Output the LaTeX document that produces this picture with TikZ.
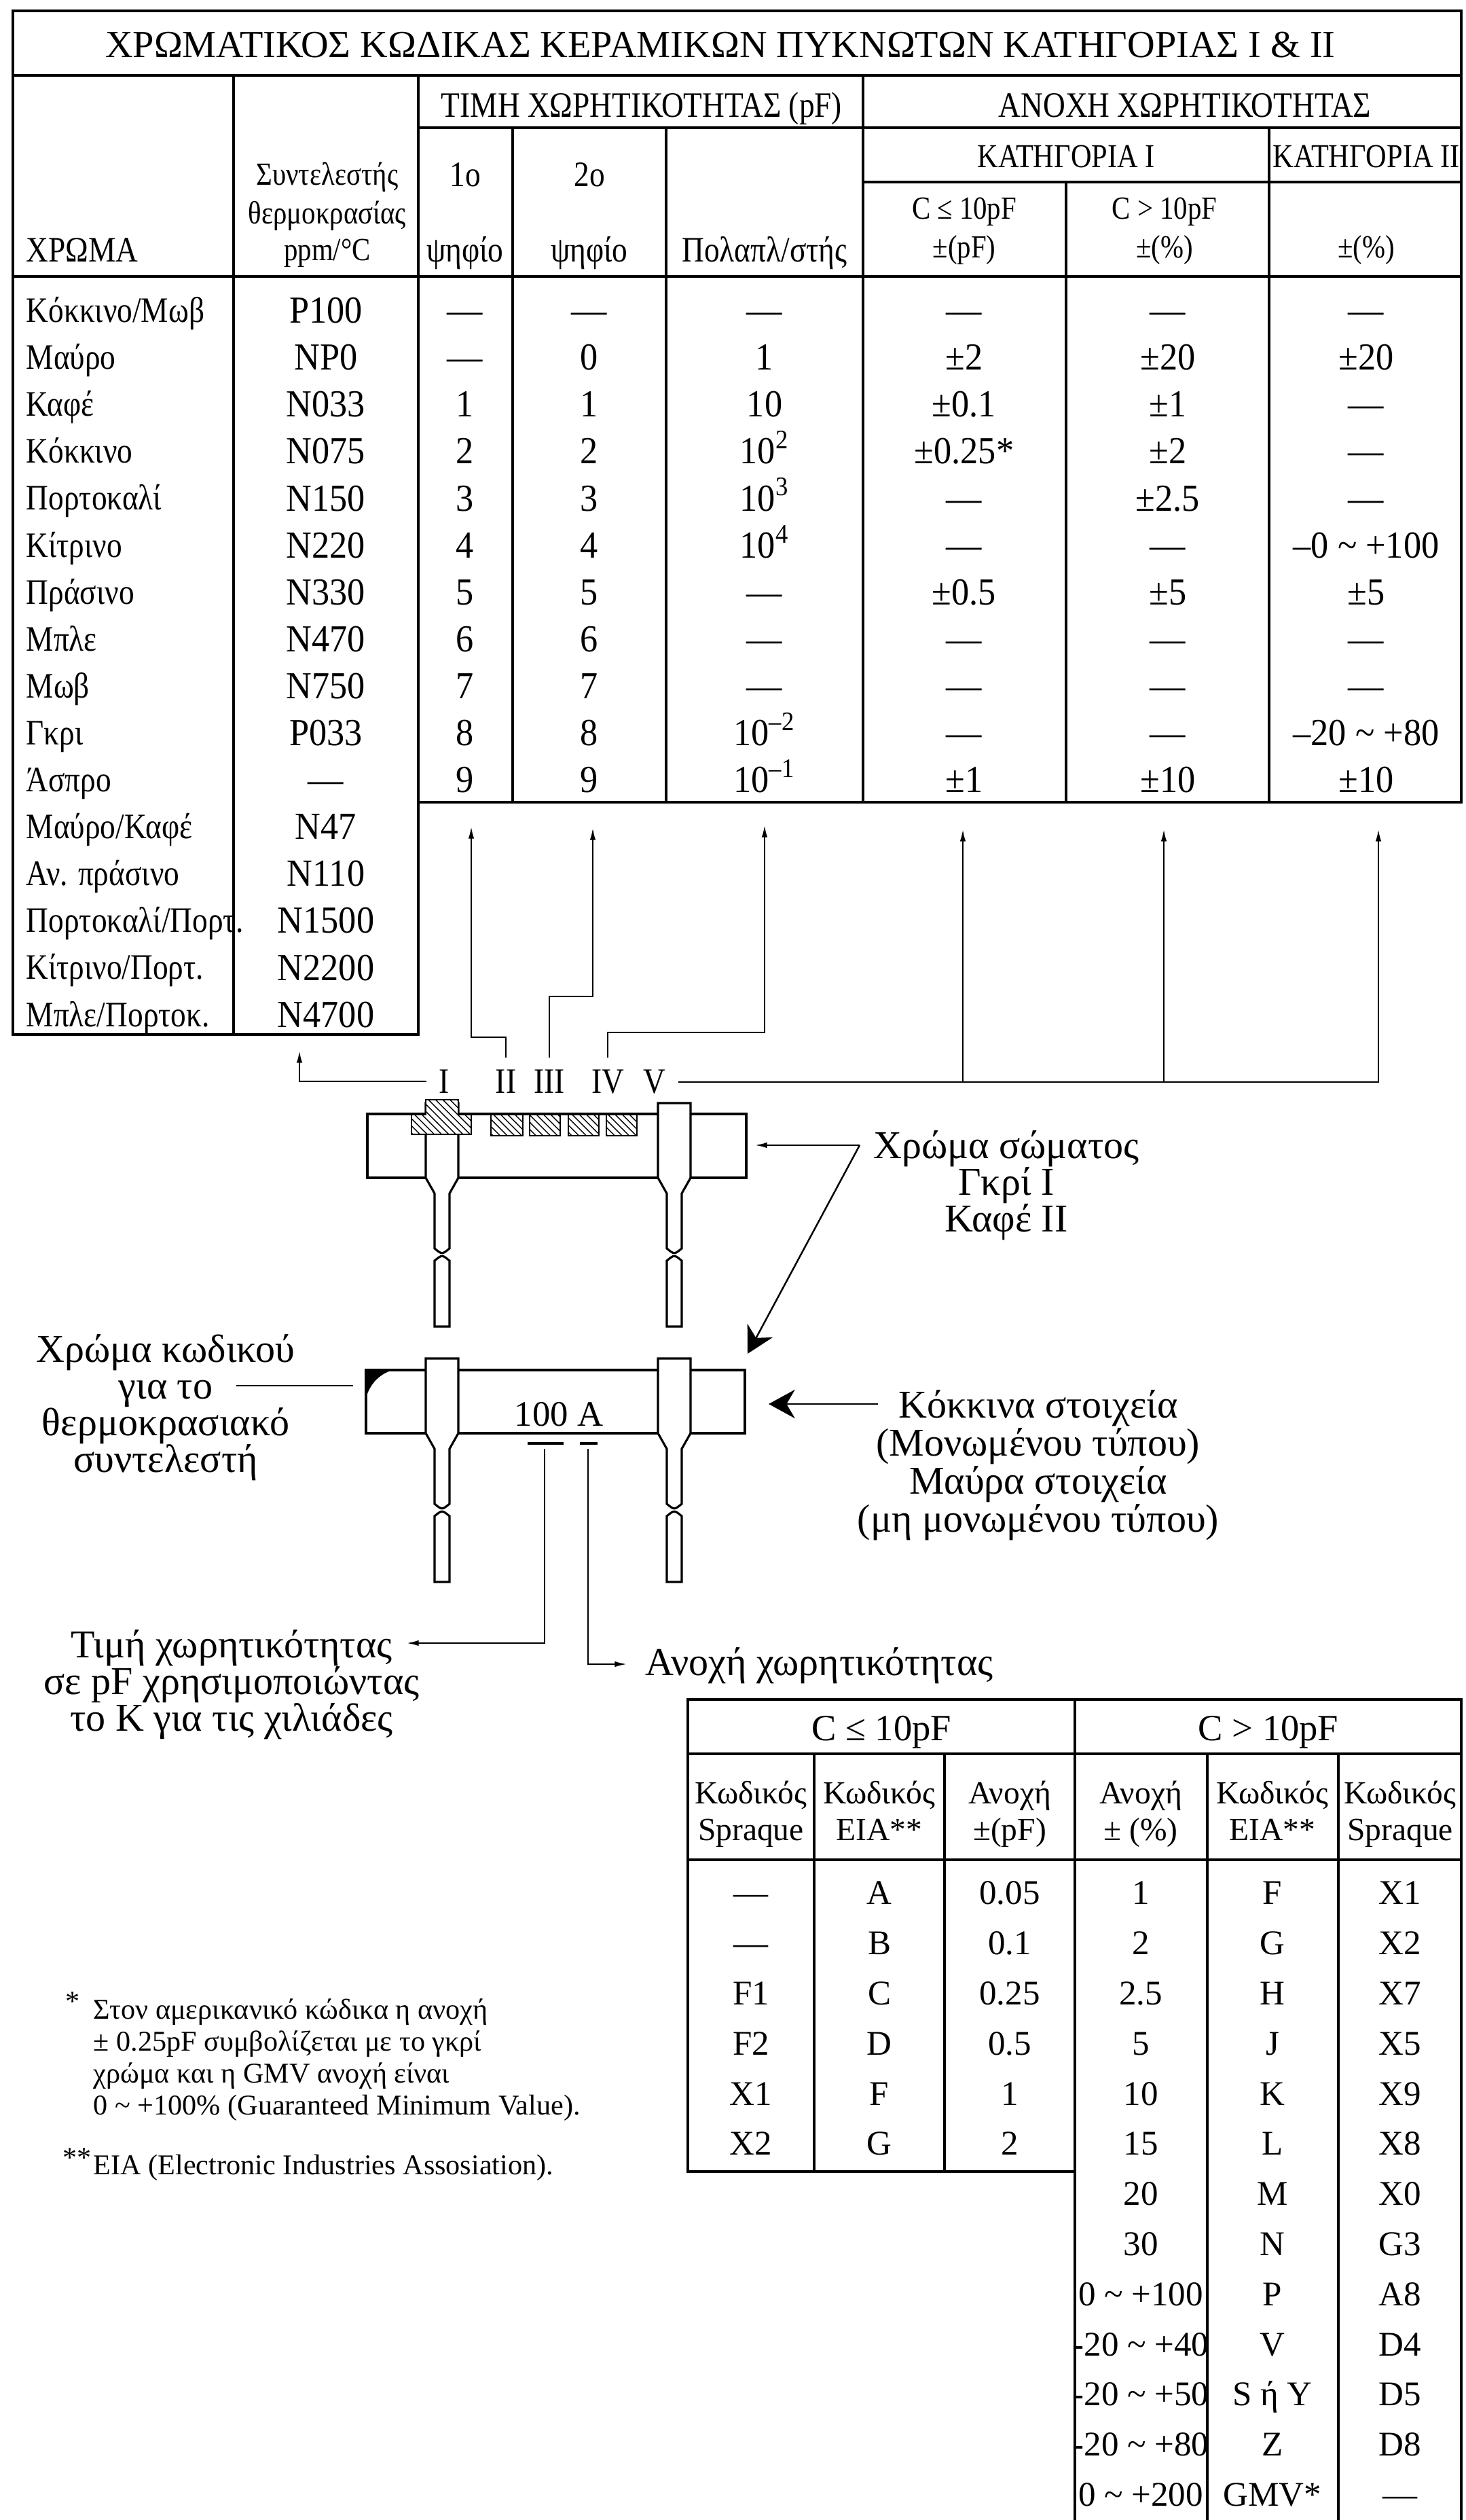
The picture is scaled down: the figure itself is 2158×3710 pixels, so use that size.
\documentclass[tikz,border=0pt]{standalone}
\usepackage{fontspec}
\setmainfont{Liberation Serif}[FakeStretch=0.86]
\newfontfamily\datafont{Liberation Serif}[FakeStretch=0.93]
\newfontfamily\plainfont{Liberation Serif}
\usetikzlibrary{arrows.meta,patterns,positioning}
\tikzset{
  hline/.style={line width=1.3pt, line cap=rect},
  vline/.style={line width=0.9pt, line cap=rect},
  body/.style={line width=0.9pt},
  lab/.style={font=\fontsize{15}{15}\selectfont, anchor=base, inner sep=0pt, yshift=-5pt},
  dat/.style={font=\datafont\fontsize{16}{16}\selectfont, anchor=base, inner sep=0pt, yshift=-5.3pt},
  hsm/.style={font=\fontsize{13.5}{13.5}\selectfont, anchor=base, inner sep=0pt, yshift=-4.5pt},
  cod/.style={font=\plainfont\fontsize{14.5}{14.5}\selectfont, anchor=base, inner sep=0pt, yshift=-4.8pt},
  codh/.style={font=\plainfont\fontsize{13.5}{13.5}\selectfont, anchor=base, inner sep=0pt, yshift=-4.5pt},
  blk/.style={font=\plainfont\fontsize{16.5}{15.3}\selectfont, align=center, inner sep=0pt},
  note/.style={font=\plainfont\fontsize{12}{12}\selectfont, anchor=base west, inner sep=0pt, yshift=-4pt},
  roman/.style={lab, inner sep=5pt},
  arr/.style={line width=0.6pt, -{Latex[length=5pt,width=2.4pt]}},
  bigarr/.style={line width=0.7pt, -{Stealth[length=11pt,width=12pt,inset=3.5pt]}},
  band/.style={line width=0.7pt, preaction={fill=white}, pattern=north west lines},
  leg/.pic={
    \draw[body, fill=white] (-24,-110) -- (-24,0) -- (-11,23) -- (-11,104)
      .. controls (0,113) .. (11,104) -- (11,23) -- (24,0) -- (24,-110) -- cycle;
    \draw[body, fill=white] (-11,122) .. controls (0,113) .. (11,122)
      -- (11,219) -- (-11,219) -- cycle;
  }
}
\begin{document}
\begin{tikzpicture}[x=0.01cm, y=-0.01cm]
\useasboundingbox (0,0) rectangle (2158,3710);
% upper table
\draw[hline] (19,16) -- (2152,16);
\draw[hline] (19,111) -- (2152,111);
\draw[hline] (616,188) -- (2152,188);
\draw[hline] (1271,268) -- (2152,268);
\draw[hline] (19,407) -- (2152,407);
\draw[hline] (616,1181) -- (2152,1181);
\draw[hline] (19,1523) -- (616,1523);
\draw[vline] (19,16) -- (19,1523);
\draw[vline] (2152,16) -- (2152,1181);
\draw[vline] (344,111) -- (344,1523);
\draw[vline] (616,111) -- (616,1523);
\draw[vline] (755,188) -- (755,1181);
\draw[vline] (981,188) -- (981,1181);
\draw[vline] (1271,111) -- (1271,1181);
\draw[vline] (1570,268) -- (1570,1181);
\draw[vline] (1869,188) -- (1869,1181);
\node[font=\plainfont\fontsize{16}{16}\selectfont, anchor=base, inner sep=0pt, yshift=-5.3pt] (title) at (1061,66)
  {ΧΡΩΜΑΤΙΚΟΣ ΚΩΔΙΚΑΣ ΚΕΡΑΜΙΚΩΝ ΠΥΚΝΩΤΩΝ ΚΑΤΗΓΟΡΙΑΣ I \& II};
\node[lab] (hval) at (945,155) {ΤΙΜΗ ΧΩΡΗΤΙΚΟΤΗΤΑΣ (pF)};
\node[lab] (htol) at (1745,155) {ΑΝΟΧΗ ΧΩΡΗΤΙΚΟΤΗΤΑΣ};
\node[lab, font=\fontsize{14}{14}\selectfont] (hcat1) at (1570,229) {ΚΑΤΗΓΟΡΙΑ I};
\node[lab, font=\fontsize{14}{14}\selectfont] (hcat2) at (2012,229) {ΚΑΤΗΓΟΡΙΑ II};
\node[lab, anchor=base west] (hcol) at (38,368) {ΧΡΩΜΑ};
\node[hsm] (hcoef1) at (482,257) {Συντελεστής};
\node[hsm] (hcoef2) at (482,314) {θερμοκρασίας};
\node[hsm] (hcoef3) at (482,368) {ppm/°C};
\node[lab] (hd1a) at (685,257) {1ο};
\node[lab] (hd1b) at (685,368) {ψηφίο};
\node[lab] (hd2a) at (868,257) {2ο};
\node[lab] (hd2b) at (868,368) {ψηφίο};
\node[lab] (hmul) at (1126,368) {Πολαπλ/στής};
\node[hsm] (hlo1) at (1420,307) {C ≤ 10pF};
\node[hsm] (hlo2) at (1420,364) {±(pF)};
\node[hsm] (hhi1) at (1715,307) {C > 10pF};
\node[hsm] (hhi2) at (1715,364) {±(\%)};
\node[hsm] (hcat2u) at (2012,364) {±(\%)};
\foreach \col/\tc/\da/\db/\mu/\ta/\tb/\tt [count=\i from 0] in {
  {Κόκκινο/Μωβ}/P100/—/—/—/—/—/—,
  Μαύρο/NP0/—/0/1/±2/±20/±20,
  Καφέ/N033/1/1/10/±0.1/±1/—,
  Κόκκινο/N075/2/2/10\textsuperscript{2}/±0.25*/±2/—,
  Πορτοκαλί/N150/3/3/10\textsuperscript{3}/—/±2.5/—,
  Κίτρινο/N220/4/4/10\textsuperscript{4}/—/—/{–0 \textasciitilde{} +100},
  Πράσινο/N330/5/5/—/±0.5/±5/±5,
  Μπλε/N470/6/6/—/—/—/—,
  Μωβ/N750/7/7/—/—/—/—,
  Γκρι/P033/8/8/10\textsuperscript{–2}/—/—/{–20 \textasciitilde{} +80},
  Άσπρο/—/9/9/10\textsuperscript{–1}/±1/±10/±10}
{
  \pgfmathsetmacro\yy{457+69.1*\i}
  \node[lab, anchor=base west] (col\i) at (38,\yy) {\col};
  \node[dat] (tc\i) at (480,\yy) {\tc};
  \node[dat] (da\i) at (685,\yy) {\da};
  \node[dat] (db\i) at (868,\yy) {\db};
  \node[dat] (mu\i) at (1126,\yy) {\mu};
  \node[dat] (ta\i) at (1420,\yy) {\ta};
  \node[dat] (tb\i) at (1720,\yy) {\tb};
  \node[dat] (tt\i) at (2012,\yy) {\tt};
}
\foreach \col/\tc [count=\i from 11] in {
  {Μαύρο/Καφέ}/N47, {Αν. πράσινο}/N110, {Πορτοκαλί/Πορτ.}/N1500,
  {Κίτρινο/Πορτ.}/N2200, {Μπλε/Πορτοκ.}/N4700}
{
  \pgfmathsetmacro\yy{457+69.1*\i}
  \node[lab, anchor=base west] (col\i) at (38,\yy) {\col};
  \node[dat] (tc\i) at (480,\yy) {\tc};
}
% band labels and their arrows
\node[roman] (I) at (654,1592) {I};
\node[roman] (II) at (745,1592) {II};
\node[roman] (III) at (809,1592) {III};
\node[roman] (IV) at (895,1592) {IV};
\node[roman] (V) at (964,1592) {V};
\coordinate (tipI) at (441,1547);
\coordinate (kII) at (694,1527);
\coordinate (tipII) at (694,1217);
\coordinate (kIII) at (873,1467);
\coordinate (tipIII) at (873,1219);
\coordinate (kIV) at (1126,1520);
\coordinate (tipIV) at (1126,1215);
\coordinate (tipV1) at (1418,1221);
\coordinate (tipV2) at (1714,1221);
\coordinate (tipV3) at (2030,1221);
\draw[arr] (I.west) -| (tipI);
\draw[arr] (II.north) |- (kII) -- (tipII);
\draw[arr] (III.north) |- (kIII) -- (tipIII);
\draw[arr] (IV.north) |- (kIV) -- (tipIV);
\draw[arr] (V.east) -| (tipV3);
\draw[arr] (V.east -| tipV1) -- (tipV1);
\draw[arr] (V.east -| tipV2) -- (tipV2);
% upper capacitor
\draw[body] (541,1640) rectangle (1099,1734);
\pic at (651,1734) {leg};
\pic at (993,1734) {leg};
\draw[band] (627,1619) -- (675,1619) -- (675,1641) -- (694,1641) -- (694,1670)
  -- (606,1670) -- (606,1641) -- (627,1641) -- cycle;
\draw[band] (723,1641) rectangle (770,1672);
\draw[band] (780,1641) rectangle (825,1672);
\draw[band] (837,1641) rectangle (882,1672);
\draw[band] (893,1641) rectangle (938,1672);
\node[blk] (bodycol) at (1482,1745) {Χρώμα σώματος\\Γκρί I\\Καφέ II};
\coordinate (bc) at (1266,1686);
\coordinate (tipB1) at (1112,1686);
\coordinate (tipB2) at (1101,1993);
\draw[arr] (bc) -- (tipB1);
\draw[bigarr] (bc) -- (tipB2);
% lower capacitor
\draw[body] (539,2017) rectangle (1097,2110);
\fill (539,2017) -- (578,2017) .. controls (556,2024) and (544,2040) .. (539,2058) -- cycle;
\pic at (651,2110) {leg};
\pic at (993,2110) {leg};
\node[cod, font=\plainfont\fontsize{15}{15}\selectfont] (code) at (823,2083) {100 A};
\draw[line width=1.2pt] (777,2125) -- (830,2125);
\draw[line width=1.2pt] (854,2125) -- (880,2125);
\node[blk] (tcol) at (244,2072) {Χρώμα κωδικού\\για το\\θερμοκρασιακό\\συντελεστή};
\coordinate (tc1) at (348,2040);
\coordinate (tc2) at (520,2040);
\draw[line width=0.8pt] (tc1) -- (tc2);
\node[blk, font=\plainfont\fontsize{16.5}{15.9}\selectfont] (kind) at (1529,2157)
  {Κόκκινα στοιχεία\\(Μονωμένου τύπου)\\Μαύρα στοιχεία\\(μη μονωμένου τύπου)};
\coordinate (ks) at (1293,2067);
\coordinate (tipK) at (1132,2067);
\draw[bigarr] (ks) -- (tipK);
\node[blk] (val) at (341,2480) {Τιμή χωρητικότητας\\σε pF χρησιμοποιώντας\\το Κ για τις χιλιάδες};
\node[blk, anchor=west] (tol) at (950,2452) {Ανοχή χωρητικότητας};
\coordinate (u1) at (802,2133);
\coordinate (u2) at (866,2133);
\coordinate (tipVal) at (599,2419);
\coordinate (tipTol) at (923,2450);
\draw[arr] (u1) |- (tipVal);
\draw[arr] (u2) |- (tipTol);
% lower table
\draw[hline] (1013,2502) -- (2152,2502);
\draw[hline] (1013,2582) -- (2152,2582);
\draw[hline] (1013,2738) -- (2152,2738);
\draw[hline] (1013,3197) -- (1583,3197);
\draw[vline] (1013,2502) -- (1013,3197);
\draw[vline] (1199,2582) -- (1199,3197);
\draw[vline] (1391,2582) -- (1391,3197);
\draw[vline] (1583,2502) -- (1583,3710);
\draw[vline] (1778,2582) -- (1778,3710);
\draw[vline] (1971,2582) -- (1971,3710);
\draw[vline] (2152,2502) -- (2152,3710);
\node[cod, font=\plainfont\fontsize{15.5}{15.5}\selectfont] (lo) at (1298,2546) {C ≤ 10pF};
\node[cod, font=\plainfont\fontsize{15.5}{15.5}\selectfont] (hi) at (1868,2546) {C > 10pF};
\foreach \x/\a/\b [count=\i] in {1106/Κωδικός/Spraque, 1295/Κωδικός/EIA**,
  1487/Ανοχή/±(pF), 1680/Ανοχή/± (\%), 1874/Κωδικός/EIA**, 2062/Κωδικός/Spraque}
{
  \node[codh] (sa\i) at (\x,2640) {\a};
  \node[codh] (sb\i) at (\x,2694) {\b};
}
\foreach \s/\e/\v [count=\i from 0] in {—/A/0.05, —/B/0.1, F1/C/0.25, F2/D/0.5, X1/F/1, X2/G/2}
{
  \pgfmathsetmacro\yy{2787+73.8*\i}
  \node[cod] (ls\i) at (1106,\yy) {\s};
  \node[cod] (le\i) at (1295,\yy) {\e};
  \node[cod] (lv\i) at (1487,\yy) {\v};
}
\foreach \v/\e/\s [count=\i from 0] in {1/F/X1, 2/G/X2, 2.5/H/X7, 5/J/X5, 10/K/X9,
  15/L/X8, 20/M/X0, 30/N/G3, {0 \textasciitilde{} +100}/P/A8, {-20 \textasciitilde{} +40}/V/D4,
  {-20 \textasciitilde{} +50}/{S ή Y}/D5, {-20 \textasciitilde{} +80}/Z/D8, {0 \textasciitilde{} +200}/GMV*/—}
{
  \pgfmathsetmacro\yy{2787+73.8*\i}
  \node[cod] (rv\i) at (1680,\yy) {\v};
  \node[cod] (re\i) at (1874,\yy) {\e};
  \node[cod] (rs\i) at (2062,\yy) {\s};
}
% footnotes
\node[note] (st1) at (96,2946) {*};
\node[note] (fn1) at (137,2958) {Στον αμερικανικό κώδικα η ανοχή};
\node[note] (fn2) at (137,3005) {± 0.25pF συμβολίζεται με το γκρί};
\node[note] (fn3) at (137,3052) {χρώμα και η GMV ανοχή είναι};
\node[note] (fn4) at (137,3099) {0 \textasciitilde{} +100\% (Guaranteed Minimum Value).};
\node[note] (st2) at (92,3176) {**};
\node[note] (fn5) at (137,3187) {EIA (Electronic Industries Assosiation).};
\end{tikzpicture}
\end{document}
